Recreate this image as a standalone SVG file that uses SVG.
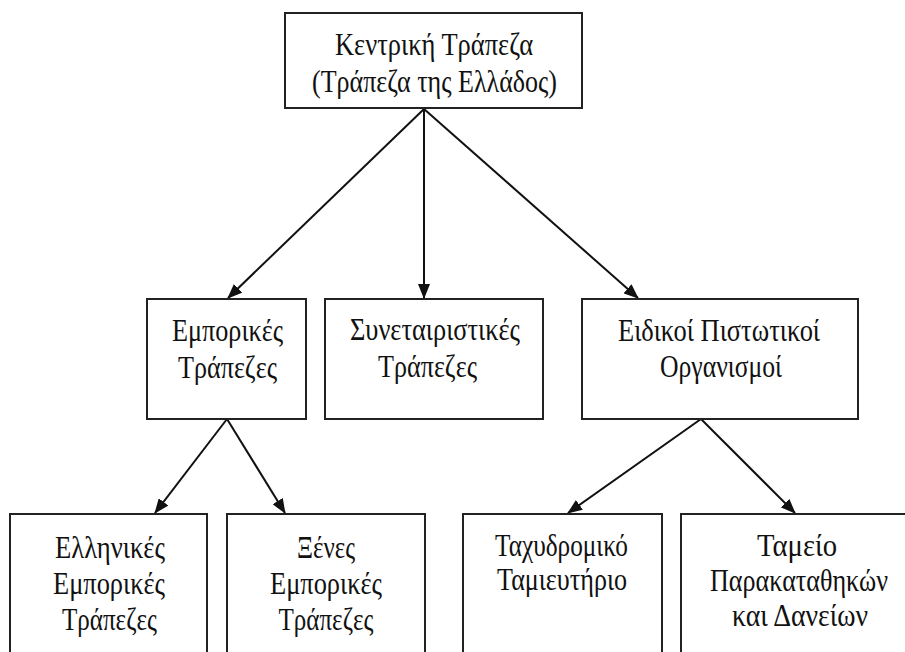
<svg xmlns="http://www.w3.org/2000/svg" width="905" height="652" viewBox="0 0 905 652">
<style>
.box{fill:#fff;stroke:#222;stroke-width:2}
.t{font-family:"Liberation Serif","Times New Roman",serif;font-size:31px;fill:#111;text-anchor:middle}
.c{stroke:#111;stroke-width:2;fill:none;marker-end:url(#ah)}
</style>
<defs>
<marker id="ah" markerUnits="userSpaceOnUse" markerWidth="16" markerHeight="12" refX="14" refY="6" orient="auto">
<path d="M0,0 L15,6 L0,12 z" fill="#111"/>
</marker>
</defs>
<rect width="905" height="652" fill="#fff"/>
<g id="connectors">
<line class="c" x1="424" y1="109" x2="228" y2="298"/>
<line class="c" x1="424" y1="109" x2="424" y2="298"/>
<line class="c" x1="424" y1="109" x2="638" y2="298"/>
<line class="c" x1="227" y1="419" x2="155" y2="513"/>
<line class="c" x1="227" y1="419" x2="285" y2="513"/>
<line class="c" x1="701" y1="419" x2="568" y2="513"/>
<line class="c" x1="701" y1="419" x2="795" y2="513"/>
</g>
<g id="central">
<rect class="box" x="285" y="13" width="297" height="95"/>
<text class="t" x="434" y="55" textLength="198" lengthAdjust="spacingAndGlyphs">Κεντρική Τράπεζα</text>
<text class="t" x="434.5" y="92" textLength="245" lengthAdjust="spacingAndGlyphs">(Τράπεζα της Ελλάδος)</text>
</g>
<g id="commercial">
<rect class="box" x="147" y="299" width="159" height="120"/>
<text class="t" x="227.5" y="341" textLength="111" lengthAdjust="spacingAndGlyphs">Εμπορικές</text>
<text class="t" x="227.5" y="378" textLength="99" lengthAdjust="spacingAndGlyphs">Τράπεζες</text>
</g>
<g id="cooperative">
<rect class="box" x="325" y="299" width="218" height="120"/>
<text class="t" x="435" y="340" textLength="170" lengthAdjust="spacingAndGlyphs">Συνεταιριστικές</text>
<text class="t" x="427.5" y="377" textLength="99" lengthAdjust="spacingAndGlyphs">Τράπεζες</text>
</g>
<g id="special">
<rect class="box" x="582" y="299" width="276" height="120"/>
<text class="t" x="719" y="341" textLength="202" lengthAdjust="spacingAndGlyphs">Ειδικοί Πιστωτικοί</text>
<text class="t" x="721" y="377" textLength="122" lengthAdjust="spacingAndGlyphs">Οργανισμοί</text>
</g>
<g id="greek-commercial">
<rect class="box" x="10" y="514" width="197" height="140"/>
<text class="t" x="110" y="558" textLength="110" lengthAdjust="spacingAndGlyphs">Ελληνικές</text>
<text class="t" x="109" y="594" textLength="112" lengthAdjust="spacingAndGlyphs">Εμπορικές</text>
<text class="t" x="109.5" y="630" textLength="95" lengthAdjust="spacingAndGlyphs">Τράπεζες</text>
</g>
<g id="foreign-commercial">
<rect class="box" x="227" y="514" width="198" height="140"/>
<text class="t" x="326" y="558" textLength="58" lengthAdjust="spacingAndGlyphs">Ξένες</text>
<text class="t" x="326" y="594" textLength="112" lengthAdjust="spacingAndGlyphs">Εμπορικές</text>
<text class="t" x="326" y="630" textLength="95" lengthAdjust="spacingAndGlyphs">Τράπεζες</text>
</g>
<g id="postal-savings">
<rect class="box" x="463" y="514" width="199" height="140"/>
<text class="t" x="561.5" y="556" textLength="133" lengthAdjust="spacingAndGlyphs">Ταχυδρομικό</text>
<text class="t" x="562" y="590" textLength="130" lengthAdjust="spacingAndGlyphs">Ταμιευτήριο</text>
</g>
<g id="deposits-loans">
<rect class="box" x="681" y="514" width="226" height="140"/>
<text class="t" x="797" y="556" textLength="80" lengthAdjust="spacingAndGlyphs">Ταμείο</text>
<text class="t" x="799" y="591" textLength="178" lengthAdjust="spacingAndGlyphs">Παρακαταθηκών</text>
<text class="t" x="800" y="626" textLength="136" lengthAdjust="spacingAndGlyphs">και Δανείων</text>
</g>
</svg>
